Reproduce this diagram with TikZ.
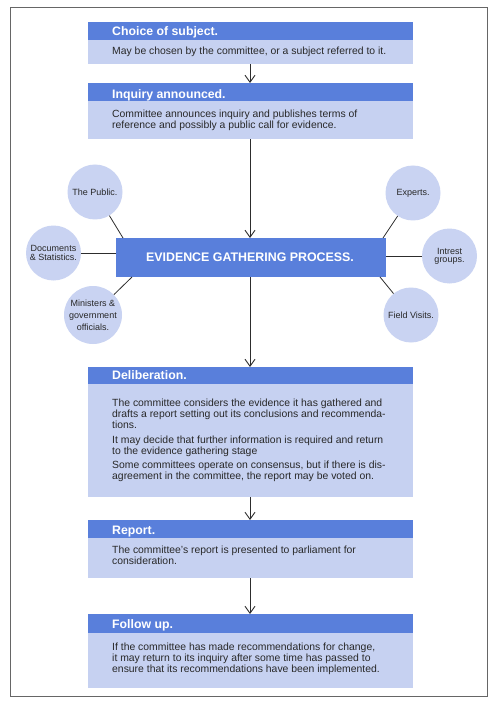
\documentclass[tikz,border=0pt]{standalone}
\usepackage{fontspec}
\setmainfont{Liberation Sans}
\usetikzlibrary{arrows.meta}
\definecolor{hdr}{RGB}{89,127,219}
\definecolor{bdy}{RGB}{198,209,241}
\definecolor{circ}{RGB}{201,211,242}
\definecolor{txt}{RGB}{40,40,40}
\definecolor{ln}{RGB}{45,45,45}
\tikzset{
  hbox/.style={anchor=north west, fill=hdr, inner sep=0pt, minimum width=325pt, draw=none},
  bbox/.style={anchor=north west, fill=bdy, inner sep=0pt, minimum width=325pt, draw=none},
  htext/.style={anchor=base west, text=white, font=\fontsize{12.3}{14}\selectfont\bfseries, inner sep=0pt},
  btext/.style={anchor=base west, text=txt, align=left, font=\fontsize{10.4}{10.7}\selectfont, inner sep=0pt},
  src/.style={circle, fill=circ, minimum size=55pt, inner sep=0pt, align=center, text=txt, font=\fontsize{9}{8.3}\selectfont},
  arr/.style={draw=ln, line width=0.9pt, -{Straight Barb[length=7pt,width=10pt]}},
  link/.style={draw=ln, line width=0.8pt}
}
\begin{document}
\begin{tikzpicture}[x=1pt,y=-1pt]
\useasboundingbox (0,0) rectangle (500,703);
\fill[white] (0,0) rectangle (500,703);
\draw[gray!80!black, line width=1pt] (10,8) rectangle (487,696);

% Choice of subject
\node[hbox, minimum height=18pt] (h1) at (88,22) {};
\node[bbox, minimum height=24pt] (b1) at (88,40) {};
\node[htext] at (112,35.7) {Choice of subject.};
\node[btext] at (112,54.3) {May be chosen by the committee, or a subject referred to it.};

% Inquiry
\node[hbox, minimum height=18pt] (h2) at (88,83) {};
\node[bbox, minimum height=38pt] (b2) at (88,101) {};
\node[htext] at (112,98.2) {Inquiry announced.};
\node[btext] at (112,128.4) {Committee announces inquiry and publishes terms of\\reference and possibly a public call for evidence.};

% Evidence
\node[anchor=north west, fill=hdr, inner sep=0pt, minimum width=270pt, minimum height=39pt] (ev) at (116,238) {};
\node[text=white, font=\fontsize{12.4}{14}\selectfont\bfseries, inner sep=0pt] at (250,257.5) {EVIDENCE GATHERING PROCESS.};

% Circles
\node[src] (pub) at (95,192) {The Public.};
\node[src] (doc) at (53.5,253) {Documents\\\& Statistics.};
\node[src, minimum size=58pt, font=\fontsize{9}{12}\selectfont] (min) at (93,315) {Ministers \&\\government\\officials.};
\node[src] (exp) at (413,193) {Experts.};
\node[src] (int) at (449.5,256) {Intrest\\groups.};
\node[src] (fld) at (411,315) {Field Visits.};

\coordinate (pubE) at (123,238);
\coordinate (minE) at (132,277);
\coordinate (expE) at (383,238);
\coordinate (fldE) at (380,277);
\draw[link] (pub) -- (pubE);
\draw[link] (doc.east) -- (doc.east -| ev.west);
\draw[link] (min) -- (minE);
\draw[link] (exp) -- (expE);
\draw[link] (int.west) -- (int.west -| ev.east);
\draw[link] (fld) -- (fldE);

% Deliberation
\node[hbox, minimum height=17pt] (h3) at (88,367) {};
\node[bbox, minimum height=113pt] (b3) at (88,384) {};
\node[htext] at (112,379.3) {Deliberation.};
\node[btext] at (112,428.1) {The committee considers the evidence it has gathered and\\drafts a report setting out its conclusions and recommenda-\\tions.};
\node[btext] at (112,454) {It may decide that further information is required and return\\to the evidence gathering stage};
\node[btext] at (112,479) {Some committees operate on consensus, but if there is dis-\\agreement in the committee, the report may be voted on.};

% Report
\node[hbox, minimum height=18pt] (h4) at (88,520) {};
\node[bbox, minimum height=40pt] (b4) at (88,538) {};
\node[htext] at (112,534) {Report.};
\node[btext] at (112,564) {The committee's report is presented to parliament for\\consideration.};

% Follow up
\node[hbox, minimum height=19pt] (h5) at (88,614) {};
\node[bbox, minimum height=55pt] (b5) at (88,633) {};
\node[htext] at (112,628.3) {Follow up.};
\node[btext] at (112,672.1) {If the committee has made recommendations for change,\\it may return to its inquiry after some time has passed to\\ensure that its recommendations have been implemented.};

% Arrows
\draw[arr] (b1.south -| 250,0) -- (h2.north -| 250,0);
\draw[arr] (b2.south -| 250,0) -- (ev.north -| 250,0);
\draw[arr] (ev.south -| 250,0) -- (h3.north -| 250,0);
\draw[arr] (b3.south -| 250,0) -- (h4.north -| 250,0);
\draw[arr] (b4.south -| 250,0) -- (h5.north -| 250,0);
\end{tikzpicture}
\end{document}
